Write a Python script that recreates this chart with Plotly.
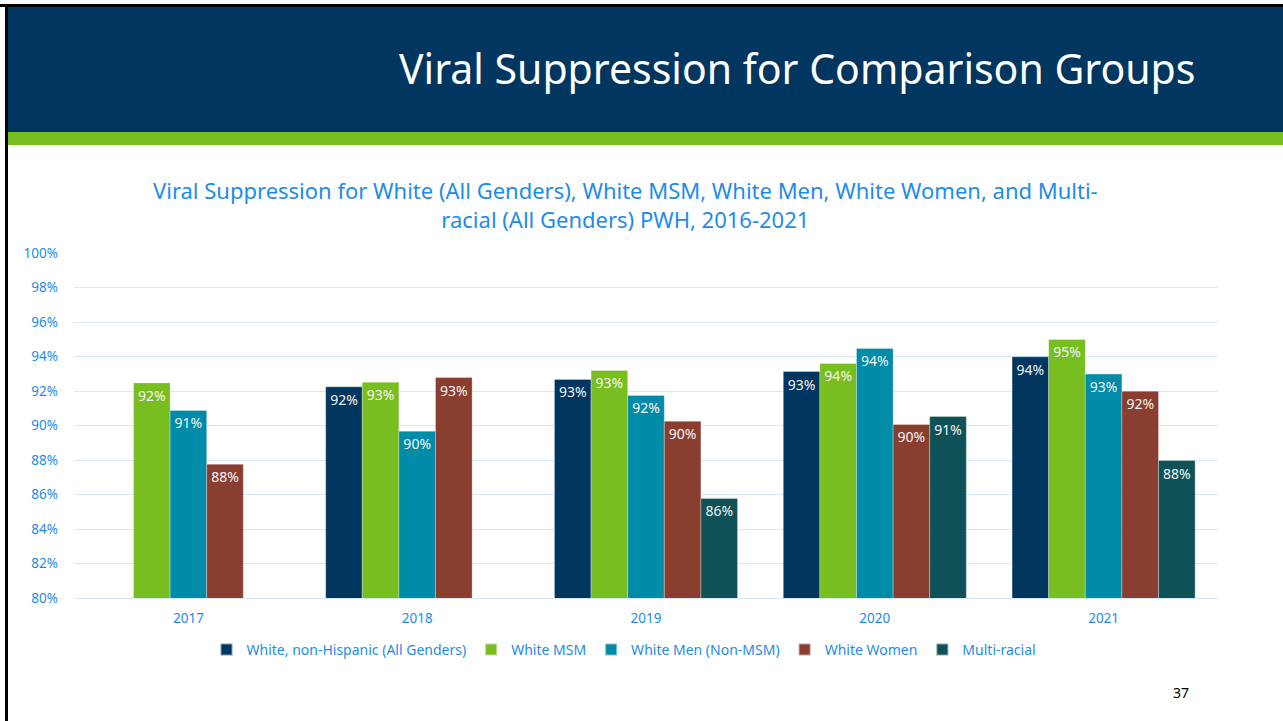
import plotly.graph_objects as go

years = ["2017", "2018", "2019", "2020", "2021"]
series_names = ["White, non-Hispanic (All Genders)", "White MSM", "White Men (Non-MSM)",
                "White Women", "Multi-racial"]
white_all = [None, 0.9224, 0.9267, 0.9313, 0.9398]
white_msm = [0.9247, 0.9251, 0.9319, 0.9360, 0.9499]
white_men = [0.9087, 0.8967, 0.9174, 0.9447, 0.9298]
white_women = [0.8775, 0.9278, 0.9025, 0.9006, 0.9199]
multi_racial = [None, None, 0.8577, 0.9052, 0.8797]
colors = ["#00365F", "#78BE20", "#008CA8", "#8A3E2F", "#0E5258"]

W, H = 1283, 721
L, R, T, B = 74, 1218, 253, 598
pw, ph = R - L, B - T

def px(x):
    return (x - L) / pw

def py(y):
    return (B - y) / ph

BLUE = "#1E8CE6"
FONT = "Noto Sans"

fig = go.Figure()
for name, vals, col in zip(series_names,
                           [white_all, white_msm, white_men, white_women, multi_racial],
                           colors):
    fig.add_trace(go.Bar(
        x=years, y=vals, name=name,
        marker=dict(color=col, line=dict(color="rgba(255,255,255,0.5)", width=0.6)),
        texttemplate="%{y:.0%}", textposition="inside", insidetextanchor="end",
        textfont=dict(color="#F4F4F4", size=14, family=FONT),
        cliponaxis=False,
    ))

shapes = [
    dict(type="rect", xref="paper", yref="paper", x0=px(0), x1=px(W), y0=py(4), y1=py(7),
         fillcolor="#000000", line_width=0, layer="below"),
    dict(type="rect", xref="paper", yref="paper", x0=px(5), x1=px(8), y0=py(4), y1=py(H),
         fillcolor="#000000", line_width=0, layer="below"),
    dict(type="rect", xref="paper", yref="paper", x0=px(8), x1=px(W), y0=py(7), y1=py(132),
         fillcolor="#00365F", line_width=0, layer="below"),
    dict(type="rect", xref="paper", yref="paper", x0=px(8), x1=px(W), y0=py(132), y1=py(145),
         fillcolor="#78BE20", line_width=0, layer="below"),
]

annotations = [
    dict(text="Viral Suppression for Comparison Groups", xref="paper", yref="paper",
         x=px(1197), y=py(68), xanchor="right", yanchor="middle", showarrow=False,
         font=dict(family=FONT, size=41, color="white")),
    dict(text="Viral Suppression for White (All Genders), White MSM, White Men, White Women, and Multi-<br>racial (All Genders) PWH, 2016-2021",
         xref="paper", yref="paper", x=px(625), y=py(205), xanchor="center", yanchor="middle",
         showarrow=False, align="center",
         font=dict(family=FONT, size=22, color=BLUE)),
    dict(text="37", xref="paper", yref="paper", x=px(1181), y=py(692), xanchor="center",
         yanchor="middle", showarrow=False, font=dict(family=FONT, size=14, color="#000000")),
]

fig.update_layout(
    width=W, height=H,
    margin=dict(l=L, r=W - R, t=T, b=H - B, autoexpand=False),
    paper_bgcolor="white", plot_bgcolor="white",
    barmode="group", bargap=0.2, bargroupgap=0,
    showlegend=True,
    legend=dict(orientation="h", x=px(624), y=py(650), xanchor="center", yanchor="middle",
                font=dict(family=FONT, size=14, color=BLUE), itemsizing="constant",
                traceorder="normal"),
    shapes=shapes, annotations=annotations,
    font=dict(family=FONT),
)
fig.update_yaxes(range=[0.80, 1.00], dtick=0.02, tickformat=".0%", showgrid=True,
                 gridcolor="#D5E8F8", gridwidth=1, zeroline=False,
                 tickfont=dict(family=FONT, size=13.5, color=BLUE),
                 ticklabelstandoff=15, ticks="")
fig.update_xaxes(showgrid=False, showline=True, linecolor="#D5E8F8", linewidth=1,
                 tickfont=dict(family=FONT, size=13.5, color=BLUE), ticks="",
                 ticklabelstandoff=8)

fig.write_html("out.html", config={"displayModeBar": False},
               post_script="document.body.style.margin='0px';")
